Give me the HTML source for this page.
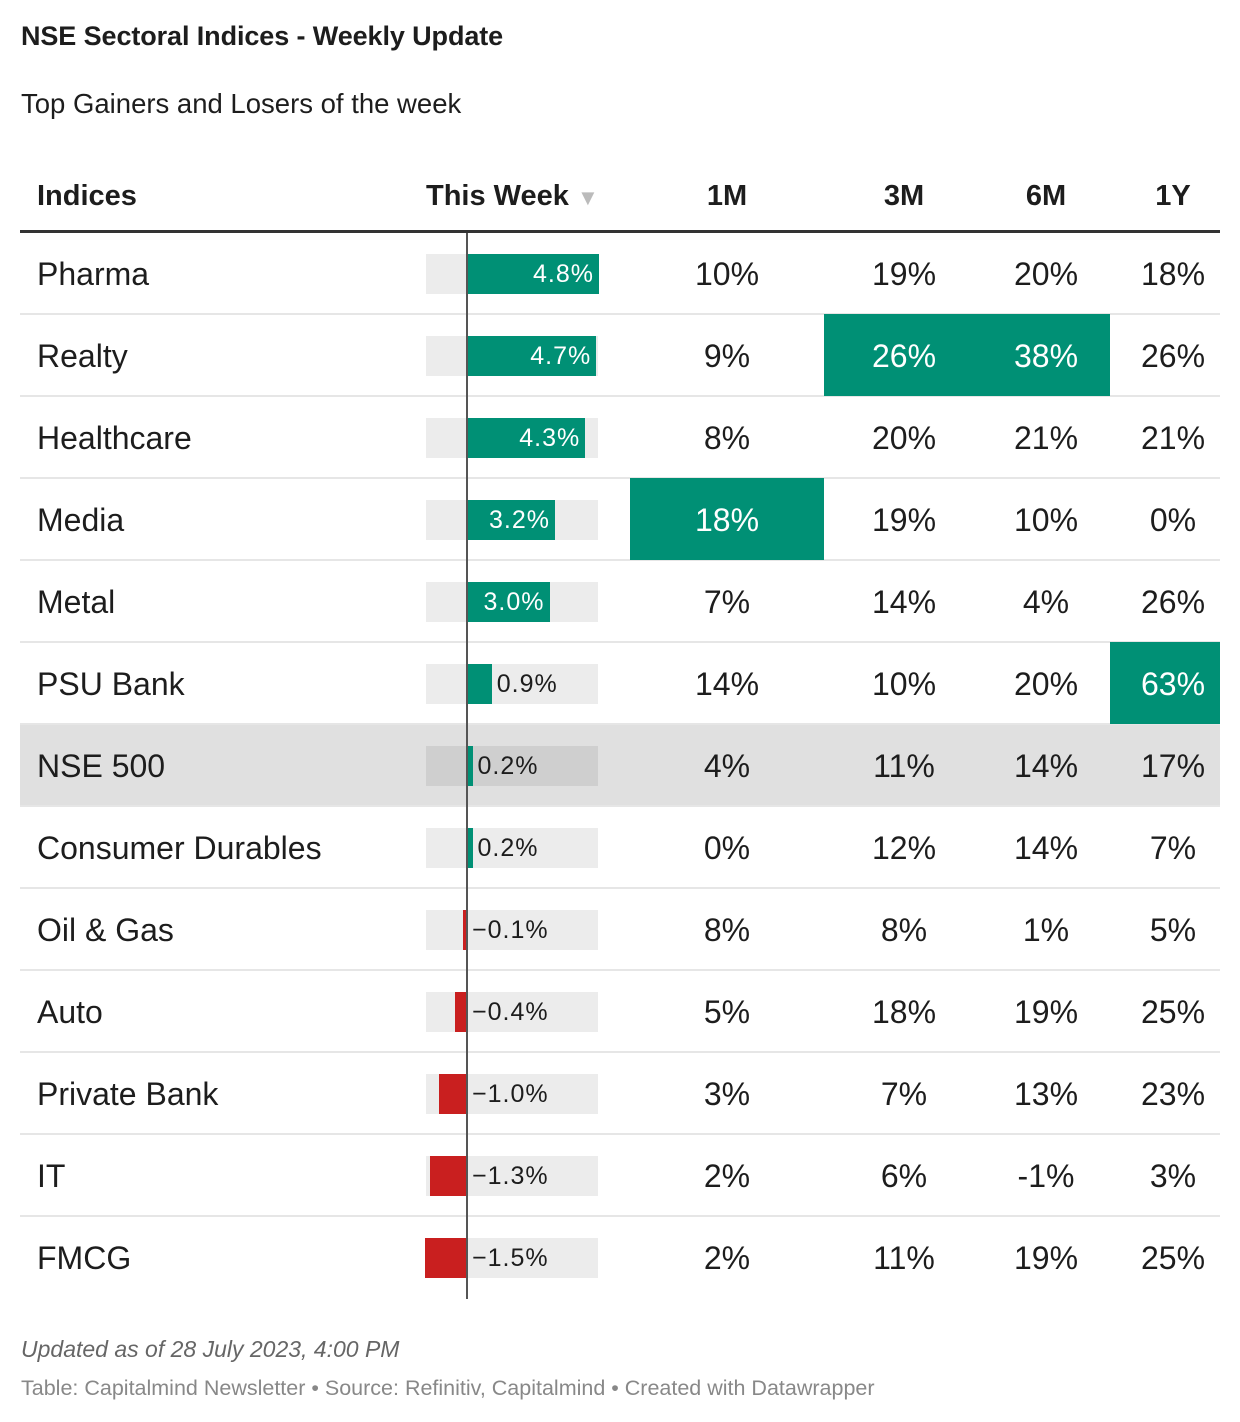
<!DOCTYPE html>
<html><head><meta charset="utf-8"><style>
*{margin:0;padding:0;box-sizing:border-box}
body{width:1240px;height:1422px;background:#fff;font-family:"Liberation Sans",Arial,sans-serif;color:#1d1d1d;position:relative;overflow:hidden}
.a{position:absolute}
.t{left:21px;top:21px;font-size:27px;font-weight:bold;letter-spacing:-0.1px}
.s{left:21px;top:88px;font-size:27.5px}
.h{top:176px;font-size:29px;font-weight:bold;line-height:40px}
.row{position:absolute;left:20px;width:1200px;height:82px;border-bottom:2px solid #e6e6e6}
.c{position:absolute;font-size:32px;line-height:40px;text-align:center}
.bg{position:absolute;left:426px;width:172px;height:40px;background:#ececec}
.bar{position:absolute;height:40px}
.lb{position:absolute;font-size:25px;line-height:40px;letter-spacing:1px}
.hl{position:absolute;background:#009075;height:82px}
</style></head><body>
<div class="a t">NSE Sectoral Indices - Weekly Update</div>
<div class="a s">Top Gainers and Losers of the week</div>
<div class="a h" style="left:37px">Indices</div>
<div class="a h" style="left:426px">This Week <span style="color:#bbb;font-size:22px">▼</span></div>
<div class="a h" style="left:627px;width:200px;text-align:center">1M</div>
<div class="a h" style="left:824px;width:160px;text-align:center">3M</div>
<div class="a h" style="left:966px;width:160px;text-align:center">6M</div>
<div class="a h" style="left:1110px;width:126px;text-align:center">1Y</div>
<div class="a" style="left:20px;top:230px;width:1200px;height:3px;background:#333"></div>
<div id="rows"></div>
<div class="a" style="left:466px;top:233px;width:2px;height:1066px;background:#555"></div>
<div class="a" style="left:21px;top:1336px;font-size:23px;font-style:italic;color:#666">Updated as of 28 July 2023, 4:00 PM</div>
<div class="a" style="left:21px;top:1376px;font-size:21.5px;color:#888">Table: Capitalmind Newsletter • Source: Refinitiv, Capitalmind • Created with Datawrapper</div>
<script>
var d=[["Pharma",4.8,"10%","19%","20%","18%"],["Realty",4.7,"9%","26%","38%","26%",[2,3]],["Healthcare",4.3,"8%","20%","21%","21%"],["Media",3.2,"18%","19%","10%","0%",[1]],["Metal",3.0,"7%","14%","4%","26%"],["PSU Bank",0.9,"14%","10%","20%","63%",[4]],["NSE 500",0.2,"4%","11%","14%","17%"],["Consumer Durables",0.2,"0%","12%","14%","7%"],["Oil & Gas",-0.1,"8%","8%","1%","5%"],["Auto",-0.4,"5%","18%","19%","25%"],["Private Bank",-1.0,"3%","7%","13%","23%"],["IT",-1.3,"2%","6%","-1%","3%"],["FMCG",-1.5,"2%","11%","19%","25%"]];
var cols=[[630,194],[824,143],[967,143],[1110,110]];
var cen=[727,904,1046,1173];
var h="";
d.forEach(function(r,i){
var top=233+82*i,cy=top+21,hl=r[6]||[];
if(i==6)h+='<div class="a" style="left:20px;top:'+top+'px;width:1200px;height:82px;background:#e0e0e0"></div>';
if(i<12)h+='<div class="row" style="top:'+top+'px"></div>';
for(var k=0;k<4;k++){if(hl.indexOf(k+1)>=0)h+='<div class="hl" style="left:'+cols[k][0]+'px;top:'+(top-1)+'px;width:'+cols[k][1]+'px"></div>';}
h+='<div class="c" style="left:37px;top:'+cy+'px;text-align:left">'+r[0].replace("&","&amp;")+'</div>';
h+='<div class="bg" style="top:'+cy+'px;'+(i==6?'background:#cfcfcf':'')+'"></div>';
var v=r[1],w=Math.abs(v)*27.5;
var txt=(v<0?"\u2212":"")+Math.abs(v).toFixed(1)+"%";
if(v>=0){h+='<div class="bar" style="left:467px;top:'+cy+'px;width:'+w+'px;background:#009075"></div>';
 if(v>=3)h+='<div class="lb" style="left:467px;width:'+(w-5)+'px;text-align:right;color:#fff;top:'+cy+'px">'+txt+'</div>';
 else h+='<div class="lb" style="left:'+(469+w+3)+'px;top:'+cy+'px">'+txt+'</div>';}
else{h+='<div class="bar" style="left:'+(466-w)+'px;top:'+cy+'px;width:'+w+'px;background:#c91f1f"></div>';
 h+='<div class="lb" style="left:472px;top:'+cy+'px">'+txt+'</div>';}
for(var k=0;k<4;k++){h+='<div class="c" style="left:'+(cen[k]-80)+'px;width:160px;top:'+cy+'px;'+(hl.indexOf(k+1)>=0?'color:#fff':'')+'">'+r[k+2]+'</div>';}
});
document.getElementById("rows").innerHTML=h;
</script>
</body></html>
